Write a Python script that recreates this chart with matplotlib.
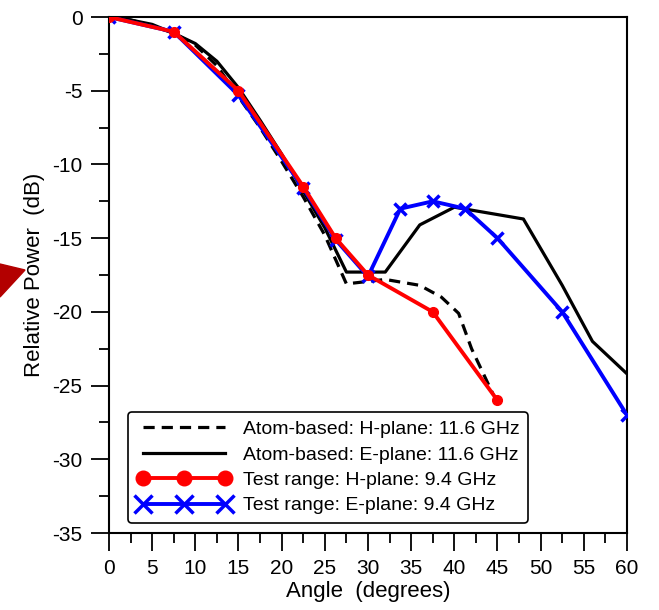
import matplotlib

matplotlib.use("Agg")
import matplotlib.pyplot as plt
from matplotlib.patches import Polygon
from matplotlib.ticker import MultipleLocator

plt.rcParams["font.family"] = ["Liberation Sans", "DejaVu Sans"]
plt.rcParams["axes.unicode_minus"] = False

# atom-based measurements, 11.6 GHz
atom_h_angle = [0, 2.5, 5, 7.5, 10, 12.5, 15, 17.5, 20, 22.5, 25, 27.5, 29, 32, 36, 38.5, 40.5, 42, 44.5]
atom_h_db = [0, -0.2, -0.6, -1.1, -1.9, -3.3, -5.4, -7.5, -9.8, -12.2, -14.8, -18.1, -18.0, -17.8, -18.2, -19.0, -20.1, -22.5, -25.6]
atom_e_angle = [0, 2.5, 5, 7.5, 10, 12.5, 15, 17.5, 20, 22.5, 25, 27.5, 32, 36, 40, 44, 48, 52.5, 56, 60]
atom_e_db = [0, -0.2, -0.5, -1.1, -1.8, -3.0, -4.8, -7.0, -9.3, -11.8, -14.3, -17.3, -17.3, -14.1, -12.9, -13.3, -13.7, -18.2, -22.0, -24.2]

# test range measurements, 9.4 GHz
test_h_angle = [0, 7.5, 15, 22.5, 26.25, 30, 37.5, 45]
test_h_db = [0, -1.0, -5.0, -11.5, -15.0, -17.5, -20.0, -26.0]
test_e_angle = [0, 7.5, 15, 22.5, 26.25, 30, 33.75, 37.5, 41.25, 45, 52.5, 60]
test_e_db = [0, -1.0, -5.3, -11.6, -15.1, -17.6, -13.0, -12.5, -13.0, -15.0, -20.0, -27.0]

fig = plt.figure(figsize=(6.59, 6.10), dpi=100)
ax = fig.add_axes([0.1654, 0.1262, 0.786, 0.8459])

ax.plot(atom_h_angle, atom_h_db, color="black", lw=2.3, ls=(0, (3.5, 2.2)),
        label="Atom-based: H-plane: 11.6 GHz", zorder=2)
ax.plot(atom_e_angle, atom_e_db, color="black", lw=2.3,
        label="Atom-based: E-plane: 11.6 GHz", zorder=2)
ax.plot(test_h_angle, test_h_db, color="red", lw=2.8, marker="o", ms=7,
        label="Test range: H-plane: 9.4 GHz", zorder=4)
ax.plot(test_e_angle, test_e_db, color="blue", lw=2.8, marker="x", ms=9, mew=2.5,
        label="Test range: E-plane: 9.4 GHz", zorder=3)

ax.set_xlim(0, 60)
ax.set_ylim(-35, 0)
ax.xaxis.set_major_locator(MultipleLocator(5))
ax.xaxis.set_minor_locator(MultipleLocator(2.5))
ax.yaxis.set_major_locator(MultipleLocator(5))
ax.yaxis.set_minor_locator(MultipleLocator(2.5))
ax.tick_params(which="both", direction="out", top=False, right=False, labelsize=15, width=1.3)
ax.tick_params(which="major", length=13)
ax.tick_params(which="minor", length=7.5)
ax.tick_params(axis="x", which="major", pad=6)
ax.tick_params(axis="y", which="major", pad=6)
for sp in ax.spines.values():
    sp.set_linewidth(1.5)

ax.set_xlabel("Angle  (degrees)", fontsize=16, labelpad=2)
ax.set_ylabel("Relative Power  (dB)", fontsize=16, labelpad=5)

leg = ax.legend(loc="lower left", bbox_to_anchor=(0.037, 0.019), borderaxespad=0,
                fontsize=14, handlelength=4.85, numpoints=3, markerscale=1.5,
                frameon=True, fancybox=True,
                borderpad=0.45, labelspacing=0.4, handletextpad=0.6)
leg.get_frame().set_edgecolor("black")
leg.get_frame().set_linewidth(1.2)
leg.get_frame().set_alpha(1)

# stray arrow head at the left edge of the picture
W, H = 659, 610
tri = Polygon([(0 / W, 1 - 264 / H), (25 / W, 1 - 270 / H), (0 / W, 1 - 297 / H)],
              closed=True, transform=fig.transFigure, color="#b30000", clip_on=False)
fig.patches.append(tri)

fig.savefig("out.png", dpi=100)
